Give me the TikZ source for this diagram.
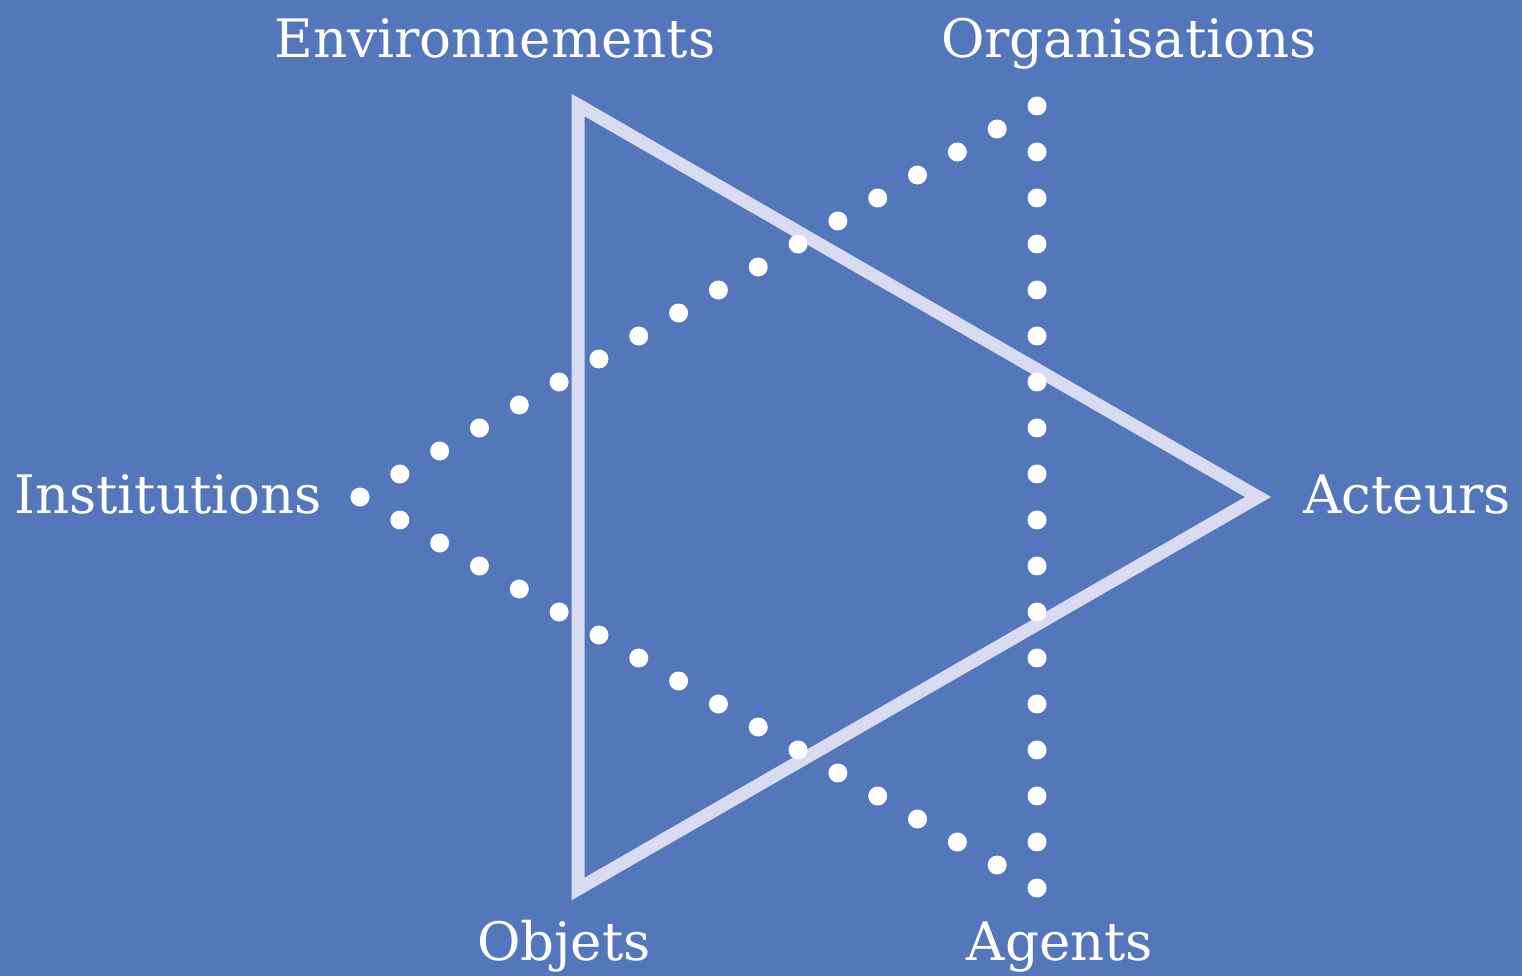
\documentclass[tikz,border=0pt]{standalone}
\usepackage{fontspec}
\setmainfont{DejaVu Serif}
\usetikzlibrary{calc}
\definecolor{bgblue}{HTML}{5477BB}
\definecolor{tristroke}{HTML}{D9DCF0}
\tikzset{
  lbl/.style={text=white, anchor=base, inner sep=0pt, font=\fontsize{53}{58}\selectfont},
  solidtri/.style={draw=tristroke, line width=13pt, line join=miter},
  dotmark/.style={fill=white, draw=none},
}
\begin{document}
\begin{tikzpicture}[x=1pt,y=-1pt]
\fill[bgblue] (0,0) rectangle (1522,976);
\useasboundingbox (0,0) rectangle (1522,976);
% solid triangle vertices
\coordinate (E) at (578,105);
\coordinate (A) at (1258,497);
\coordinate (O) at (578,889);
% dotted triangle vertices
\coordinate (I) at (360,497);
\coordinate (G) at (1037,106);
\coordinate (N) at (1037,888);
\draw[solidtri] (E) -- (A) -- (O) -- cycle;
\foreach \p/\q in {I/G, G/N, N/I}{
  \foreach \k in {0,...,16}{
    \fill[dotmark] ($(\p)!\k/17!(\q)$) circle (9.5pt);
  }
}
\node[lbl] (env) at (495,58) {Environnements};
\node[lbl] (org) at (1129,58) {Organisations};
\node[lbl] (ins) at (168,513) {Institutions};
\node[lbl] (act) at (1407,513) {Acteurs};
\node[lbl] (obj) at (564,960) {Objets};
\node[lbl] (age) at (1060,960) {Agents};
\end{tikzpicture}
\end{document}
